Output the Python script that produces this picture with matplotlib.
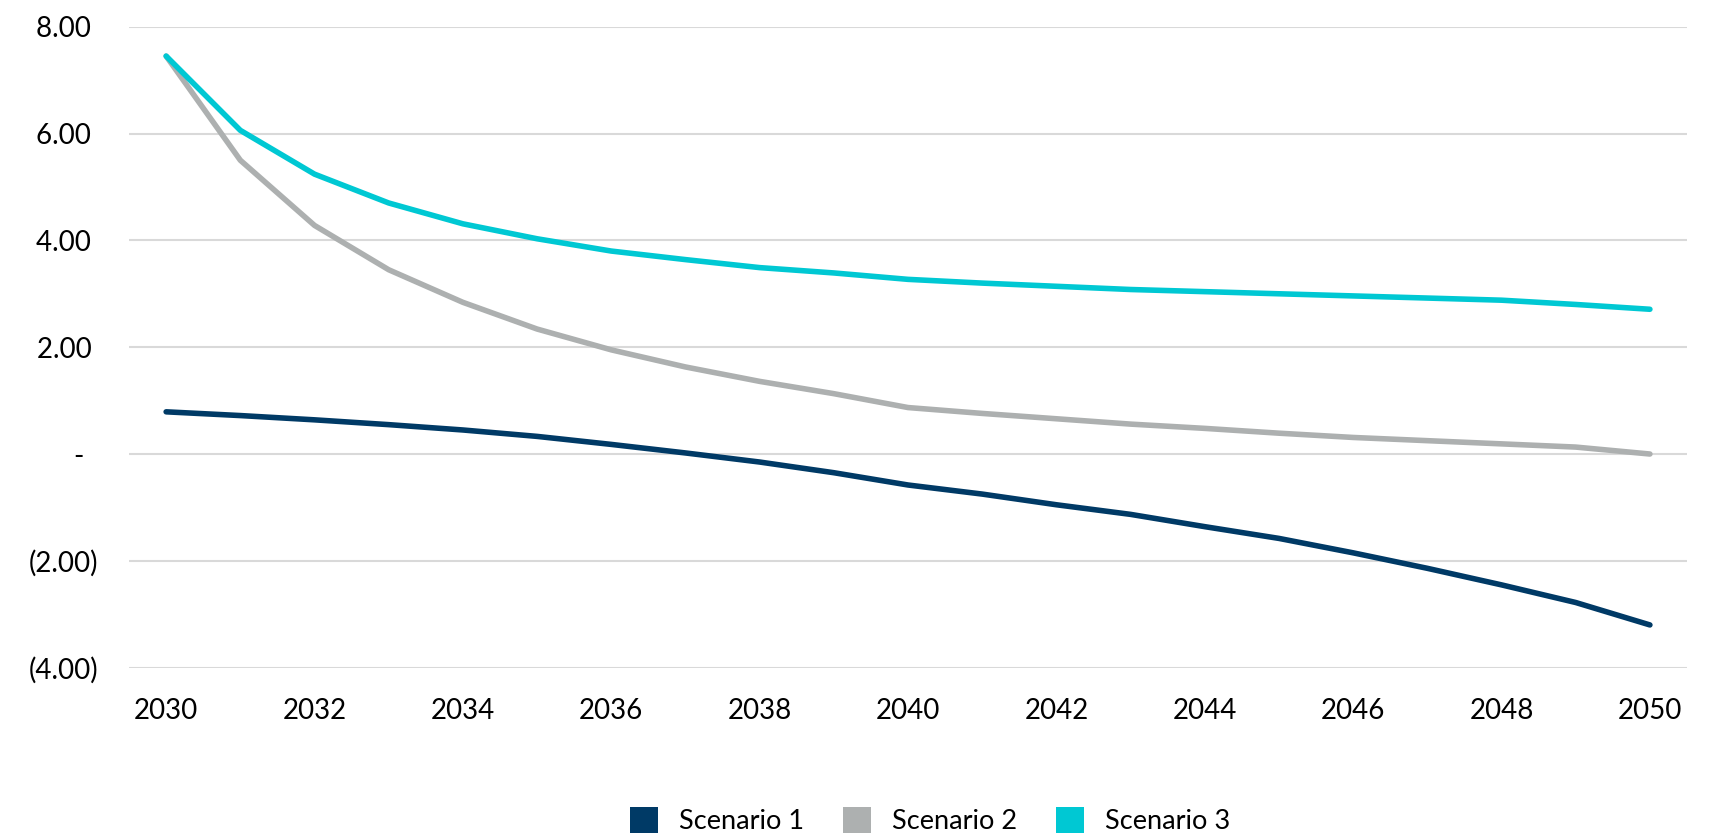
import matplotlib
matplotlib.use("Agg")
import matplotlib.pyplot as plt
from matplotlib.patches import Patch

plt.rcParams["font.family"] = ["Lato", "DejaVu Sans"]

# ── data ─────────────────────────────────────────────────────────────────────
years = list(range(2030, 2051))
scenario_1 = [0.79, 0.72, 0.64, 0.55, 0.45, 0.33, 0.18, 0.02, -0.15, -0.35, -0.58,
              -0.75, -0.95, -1.13, -1.36, -1.58, -1.85, -2.14, -2.45, -2.78, -3.20]
scenario_2 = [7.45, 5.50, 4.28, 3.45, 2.84, 2.34, 1.95, 1.63, 1.36, 1.13, 0.87,
              0.76, 0.66, 0.56, 0.48, 0.39, 0.31, 0.25, 0.19, 0.13, 0.00]
scenario_3 = [7.45, 6.06, 5.24, 4.70, 4.31, 4.03, 3.80, 3.64, 3.49, 3.39, 3.27,
              3.20, 3.14, 3.08, 3.04, 3.00, 2.96, 2.92, 2.88, 2.80, 2.71]
series_names = ["Scenario 1", "Scenario 2", "Scenario 3"]
colors = ["#003A66", "#ADB0B0", "#00C8D3"]
y_ticks = [-4, -2, 0, 2, 4, 6, 8]
y_tick_labels = ["(4.00)", "(2.00)", "-  ", "2.00 ", "4.00 ", "6.00 ", "8.00 "]
x_ticks = years[::2]

# ── figure ───────────────────────────────────────────────────────────────────
fig = plt.figure(figsize=(17.16, 8.35), dpi=100)
ax = fig.add_axes([0.0752, 0.2004, 0.9079, 0.7676])

for vals, name, c in zip([scenario_1, scenario_2, scenario_3], series_names, colors):
    ax.plot(years, vals, color=c, linewidth=4, solid_capstyle="round",
            solid_joinstyle="round", label=name, zorder=3)

ax.set_xlim(years[0] - 0.5, years[-1] + 0.5)
ax.set_ylim(-4, 8)
ax.set_yticks(y_ticks)
ax.set_yticklabels(y_tick_labels)
ax.set_xticks(x_ticks)
ax.set_xticklabels([str(y) for y in x_ticks])
ax.grid(axis="y", color="#D9D9D9", linewidth=1.5, zorder=0)
ax.set_axisbelow(True)
for s in ax.spines.values():
    s.set_visible(False)
ax.tick_params(axis="both", length=0, labelsize=20, colors="black")
ax.tick_params(axis="y", pad=22)
ax.tick_params(axis="x", pad=22)

handles = [Patch(facecolor=c, edgecolor="none") for c in colors]
fig.legend(handles, series_names, loc="center", bbox_to_anchor=(0.542, 0.017),
           ncol=3, frameon=False, fontsize=19.5, handlelength=1.03, handleheight=1.07,
           handletextpad=0.77, columnspacing=1.44, borderpad=0, borderaxespad=0)

fig.savefig("out.png", dpi=100, facecolor="white")
